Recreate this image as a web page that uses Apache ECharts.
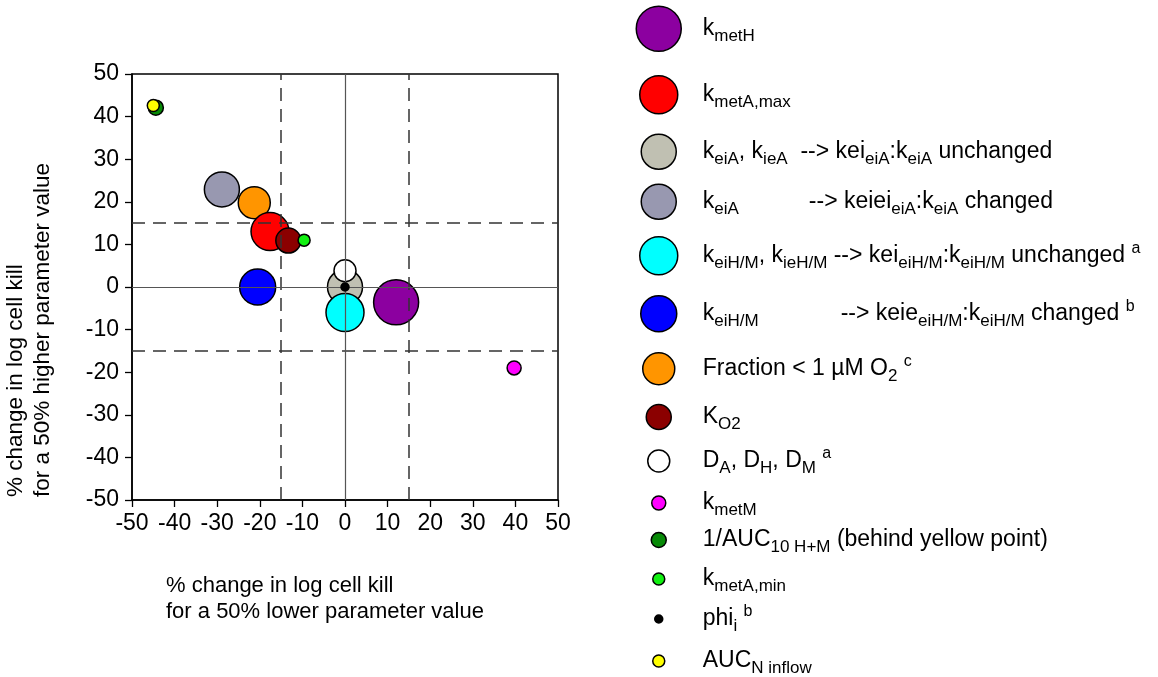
<!DOCTYPE html>
<html>
<head>
<meta charset="UTF-8">
<title>% change in log cell kill</title>
<script src="https://cdn.jsdelivr.net/npm/echarts@6/dist/echarts.min.js"></script>
<style type="text/css">
body{
	margin:0;
	padding:0;
	background:#fff;
}
#main{
	width:1158px;
	height:677px;
}
</style>
</head>
<body>
<div id="main"></div>
<script type="text/javascript">
// parameters, in legend order
var names = ['kmetH', 'kmetA,max', 'keiA, kieA unchanged', 'keiA changed',
	'keiH/M, kieH/M unchanged', 'keiH/M changed', 'Fraction < 1 uM O2', 'KO2',
	'DA, DH, DM', 'kmetM', '1/AUC10 H+M', 'kmetA,min', 'phii', 'AUCN inflow'];
// % change in log cell kill for a 50% lower parameter value
var xLower = [12.0, -17.6, 0, -28.9, 0, -20.5, -21.3, -13.3, 0, 39.7, -44.4, -9.6, 0, -45.0];
// % change in log cell kill for a 50% higher parameter value
var yHigher = [-3.6, 13.0, 0, 22.9, -6.0, 0, 19.8, 10.9, 3.8, -19.0, 42.1, 11.0, 0, 42.6];
var axisTicks = [-50, -40, -30, -20, -10, 0, 10, 20, 30, 40, 50];
var guideLines = [-15, 15];

// legend labels (rich text: s = subscript, p = superscript)
var labels = [
	'k{s|metH}',
	'k{s|metA,max}',
	'k{s|eiA}, k{s|ieA}  --> kei{s|eiA}:k{s|eiA} unchanged',
	'k{s|eiA}{g1| }--> keiei{s|eiA}:k{s|eiA} changed',
	'k{s|eiH/M}, k{s|ieH/M} --> kei{s|eiH/M}:k{s|eiH/M} unchanged {p|a}',
	'k{s|eiH/M}{g2| }--> keie{s|eiH/M}:k{s|eiH/M} changed {p|b}',
	'Fraction < 1 µM O{s|2} {p|c}',
	'K{s|O2}',
	'D{s|A}, D{s|H}, D{s|M} {p|a}',
	'k{s|metM}',
	'1/AUC{s|10 H+M} (behind yellow point)',
	'k{s|metA,min}',
	'phi{s|i} {p|b}',
	'AUC{s|N inflow}'
];

var colors = ['#8c00a0', '#ff0000', '#c0c0b2', '#9898b0', '#00ffff', '#0000ff', '#ff9500',
	'#8b0000', '#ffffff', '#ff00ff', '#078a07', '#11f011', '#000000', '#ffff00'];
var sizes = [45, 38, 35, 35, 38, 36, 32, 25, 22, 14, 15, 12, 8, 12];
var drawZ = [2, 3, 2, 2, 4, 2, 2, 4, 4, 2, 2, 5, 5, 5];
var legendY = [28, 94, 151, 201, 255, 313, 368, 417, 461, 503, 540, 579, 619, 661];

var font = 'Liberation Sans, Arial, sans-serif';
var myChart = echarts.init(document.getElementById('main'));

var series = [];
// guide lines at 0 and +/-15, under the points
var lines = [];
guideLines.forEach(function (v) {
	lines.push({xAxis: v});
	lines.push({yAxis: v});
});
series.push({
	type: 'scatter',
	name: 'guides',
	data: [],
	z: 1,
	markLine: {
		silent: true,
		symbol: 'none',
		label: {show: false},
		lineStyle: {color: '#333', width: 1.5, type: [13, 8]},
		data: lines.concat([
			{xAxis: 0, lineStyle: {color: '#555', width: 1.2, type: 'solid'}},
			{yAxis: 0, lineStyle: {color: '#555', width: 1.2, type: 'solid'}}
		])
	}
});

var legends = [];
for (var i = 0; i < names.length; i++) {
	series.push({
		type: 'scatter',
		name: names[i],
		z: drawZ[i],
		symbol: 'circle',
		symbolSize: sizes[i],
		itemStyle: {color: colors[i], borderColor: '#000', borderWidth: 1.5, opacity: 1},
		data: [[xLower[i], yHigher[i]]]
	});
	// icon box is 78 wide so every label starts at the same x
	legends.push({
		data: [{name: names[i], icon: 'circle'}],
		orient: 'vertical',
		left: 658 - sizes[i] / 2,
		top: legendY[i] - Math.max(sizes[i], 32) / 2,
		padding: 0,
		itemWidth: 78,
		itemHeight: sizes[i],
		itemStyle: {borderColor: '#000', borderWidth: 1.5},
		formatter: (function (lab) { return function () { return lab; }; })(labels[i]),
		textStyle: {
			fontFamily: font,
			fontSize: 23,
			color: '#000',
			lineHeight: 32,
			rich: {
				s: {fontFamily: font, fontSize: 17, color: '#000', lineHeight: 17, padding: [15, 0, 0, 0]},
				p: {fontFamily: font, fontSize: 16, color: '#000', lineHeight: 17, padding: [0, 0, 15, 0]},
				g1: {fontFamily: font, fontSize: 23, width: 70, lineHeight: 32},
				g2: {fontFamily: font, fontSize: 23, width: 82, lineHeight: 32}
			}
		}
	});
}

var axisCommon = {
	type: 'value',
	min: axisTicks[0],
	max: axisTicks[axisTicks.length - 1],
	interval: 10,
	axisLine: {show: true, onZero: false, lineStyle: {color: '#000', width: 1.5}},
	axisTick: {show: true, inside: false, length: 7, lineStyle: {color: '#000', width: 1.3}},
	splitLine: {show: false},
	axisLabel: {fontFamily: font, fontSize: 23, color: '#000'}
};

var option = {
	animation: false,
	backgroundColor: '#fff',
	grid: {
		left: 132, top: 74, width: 426, height: 426,
		show: true, borderColor: '#000', borderWidth: 1.5,
		containLabel: false
	},
	xAxis: echarts.util.merge({axisLabel: {margin: 12}}, axisCommon),
	yAxis: echarts.util.merge({axisLabel: {margin: 13}}, axisCommon),
	legend: legends,
	graphic: [
		{
			type: 'text',
			x: 2, y: 497,
			rotation: Math.PI / 2,
			style: {
				text: '% change in log cell kill\nfor a 50% higher parameter value',
				fontFamily: font, fontSize: 22.5, lineHeight: 27, fill: '#000',
				textAlign: 'left', textVerticalAlign: 'top'
			}
		},
		{
			type: 'text',
			x: 166, y: 573,
			style: {
				text: '% change in log cell kill\nfor a 50% lower parameter value',
				fontFamily: font, fontSize: 22, lineHeight: 26, fill: '#000',
				textAlign: 'left', textVerticalAlign: 'top'
			}
		}
	],
	series: series
};

myChart.setOption(option);
</script>
</body>
</html>
